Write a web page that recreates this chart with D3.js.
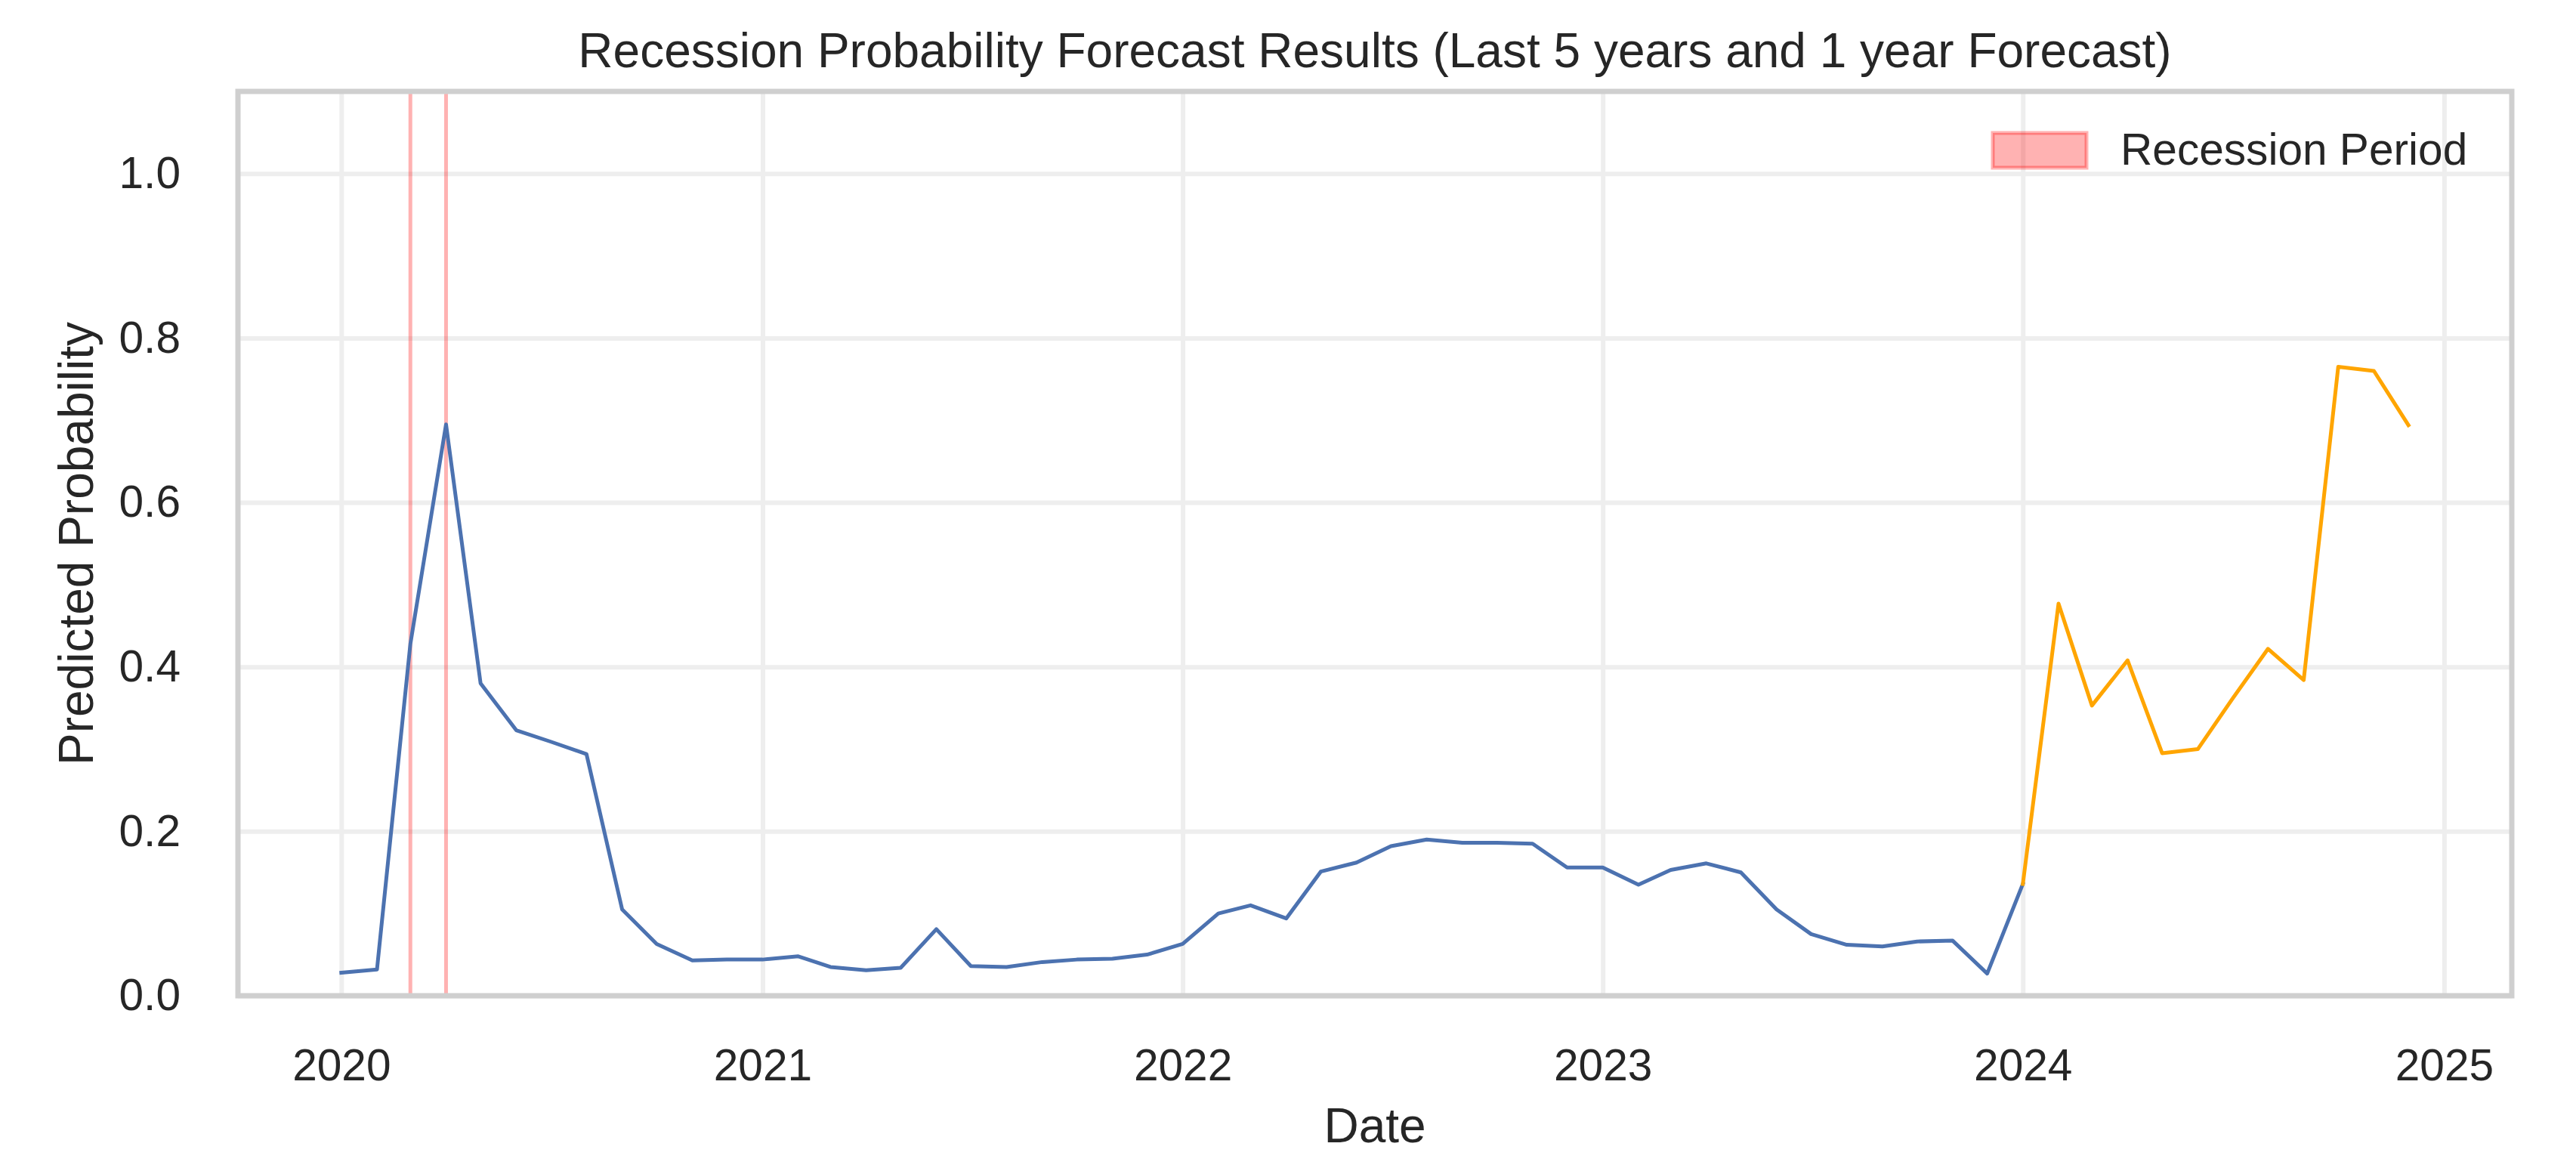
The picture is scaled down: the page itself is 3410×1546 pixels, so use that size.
<!DOCTYPE html>
<html>
<head>
<meta charset="utf-8">
<script src="https://cdn.jsdelivr.net/npm/d3@7"></script>
<style>
  html, body { margin: 0; padding: 0; background: #ffffff; }
  svg { display: block; }
  text { font-family: "Liberation Sans", Arial, "DejaVu Sans", sans-serif; fill: #262626; }
</style>
</head>
<body>
<svg id="chart" width="3410" height="1546"></svg>
<script>
// ---- Data ----
const historyMonths = [
  "2020-01","2020-02","2020-03","2020-04","2020-05","2020-06","2020-07","2020-08","2020-09","2020-10","2020-11","2020-12",
  "2021-01","2021-02","2021-03","2021-04","2021-05","2021-06","2021-07","2021-08","2021-09","2021-10","2021-11","2021-12",
  "2022-01","2022-02","2022-03","2022-04","2022-05","2022-06","2022-07","2022-08","2022-09","2022-10","2022-11","2022-12",
  "2023-01","2023-02","2023-03","2023-04","2023-05","2023-06","2023-07","2023-08","2023-09","2023-10","2023-11","2023-12",
  "2024-01"
];
const historyValues = [
  0.028, 0.032, 0.428, 0.695, 0.380, 0.323, 0.309, 0.294, 0.105, 0.063, 0.043, 0.044,
  0.044, 0.048, 0.035, 0.031, 0.034, 0.081, 0.036, 0.035, 0.041, 0.044, 0.045, 0.050,
  0.063, 0.100, 0.110, 0.094, 0.151, 0.162, 0.182, 0.190, 0.186, 0.186, 0.185, 0.156,
  0.156, 0.135, 0.153, 0.161, 0.150, 0.105, 0.075, 0.062, 0.060, 0.066, 0.067, 0.027,
  0.136
];
const forecastMonths = [
  "2024-01","2024-02","2024-03","2024-04","2024-05","2024-06",
  "2024-07","2024-08","2024-09","2024-10","2024-11","2024-12"
];
const forecastValues = [0.136, 0.477, 0.353, 0.408, 0.295, 0.300, 0.361, 0.422, 0.384, 0.765, 0.760, 0.694];
const recessionMonths = ["2020-03", "2020-04"];
const yTicks = [0.0, 0.2, 0.4, 0.6, 0.8, 1.0];
const xTickYears = [2020, 2021, 2022, 2023, 2024, 2025];

const titleText = "Recession Probability Forecast Results (Last 5 years and 1 year Forecast)";
const xLabelText = "Date";
const yLabelText = "Predicted Probability";
const legendLabel = "Recession Period";

// ---- Layout ----
const W = 3410, H = 1546;
const plot = { left: 315, right: 3325, top: 121, bottom: 1318 };
const tickFont = 58.6, labelFont = 64;

const parse = d3.timeParse("%Y-%m");
const hist = historyMonths.map((m, i) => ({ date: parse(m), value: historyValues[i] }));
const fore = forecastMonths.map((m, i) => ({ date: parse(m), value: forecastValues[i] }));

const allDates = hist.concat(fore).map(d => d.date);
const [dMin, dMax] = d3.extent(allDates);
const pad = (dMax - dMin) * 0.05;
const x = d3.scaleTime()
  .domain([new Date(+dMin - pad), new Date(+dMax + pad)])
  .range([plot.left, plot.right]);
const y = d3.scaleLinear().domain([0, 1.1]).range([plot.bottom, plot.top]);

const svg = d3.select("#chart");
svg.append("rect").attr("width", W).attr("height", H).attr("fill", "#ffffff");

const xTickDates = xTickYears.map(yr => new Date(yr, 0, 1));

// ---- Grid ----
const grid = svg.append("g");
grid.append("g")
  .attr("transform", `translate(0,${plot.bottom})`)
  .call(d3.axisBottom(x).tickValues(xTickDates).tickSize(-(plot.bottom - plot.top)).tickFormat(""))
  .call(g => g.select(".domain").remove())
  .call(g => g.selectAll("line").attr("stroke", "#eeeeee").attr("stroke-width", 6));
grid.append("g")
  .attr("transform", `translate(${plot.left},0)`)
  .call(d3.axisLeft(y).tickValues(yTicks).tickSize(-(plot.right - plot.left)).tickFormat(""))
  .call(g => g.select(".domain").remove())
  .call(g => g.selectAll("line").attr("stroke", "#eeeeee").attr("stroke-width", 6));

// ---- Recession spans (zero-width, edge only) ----
svg.append("g").selectAll("line")
  .data(recessionMonths.map(parse))
  .join("line")
  .attr("x1", d => x(d)).attr("x2", d => x(d))
  .attr("y1", y(0)).attr("y2", y(1.1))
  .attr("stroke", "rgba(255,0,0,0.3)")
  .attr("stroke-width", 5);

// ---- Lines ----
const line = d3.line().x(d => x(d.date)).y(d => y(d.value));
svg.append("path").datum(hist)
  .attr("d", line).attr("fill", "none")
  .attr("stroke", "#4c72b0").attr("stroke-width", 5)
  .attr("stroke-linejoin", "round").attr("stroke-linecap", "square");
svg.append("path").datum(fore)
  .attr("d", line).attr("fill", "none")
  .attr("stroke", "orange").attr("stroke-width", 5)
  .attr("stroke-linejoin", "round").attr("stroke-linecap", "square");

// ---- Spines ----
svg.append("rect")
  .attr("x", plot.left).attr("y", plot.top)
  .attr("width", plot.right - plot.left).attr("height", plot.bottom - plot.top)
  .attr("fill", "none").attr("stroke", "#cfcfcf").attr("stroke-width", 7);

// ---- Axes labels ----
const xAxis = svg.append("g")
  .attr("transform", `translate(0,${plot.bottom})`)
  .call(d3.axisBottom(x).tickValues(xTickDates).tickSize(0).tickPadding(70).tickFormat(d3.timeFormat("%Y")));
xAxis.select(".domain").remove();
xAxis.selectAll("text").attr("font-size", tickFont).attr("fill", "#262626")
  .style("font-family", '"Liberation Sans", Arial, sans-serif');

const yAxis = svg.append("g")
  .attr("transform", `translate(${plot.left},0)`)
  .call(d3.axisLeft(y).tickValues(yTicks).tickSize(0).tickPadding(76).tickFormat(d3.format(".1f")));
yAxis.select(".domain").remove();
yAxis.selectAll("text").attr("font-size", tickFont).attr("fill", "#262626")
  .style("font-family", '"Liberation Sans", Arial, sans-serif');

const cx = (plot.left + plot.right) / 2;
const cy = (plot.top + plot.bottom) / 2;

svg.append("text").attr("x", cx).attr("y", 89)
  .attr("text-anchor", "middle").attr("font-size", labelFont).text(titleText);
svg.append("text").attr("x", cx).attr("y", 1512)
  .attr("text-anchor", "middle").attr("font-size", labelFont).text(xLabelText);
svg.append("text")
  .attr("transform", `translate(123,${cy}) rotate(-90)`)
  .attr("text-anchor", "middle").attr("font-size", labelFont).text(yLabelText);

// ---- Legend ----
const legend = svg.append("g");
legend.append("rect")
  .attr("x", 2638).attr("y", 176).attr("width", 124).attr("height", 46)
  .attr("fill", "rgba(255,0,0,0.3)").attr("stroke", "rgba(255,0,0,0.3)").attr("stroke-width", 5);
legend.append("text").attr("x", 2807).attr("y", 218)
  .attr("font-size", tickFont).text(legendLabel);
</script>
</body>
</html>
